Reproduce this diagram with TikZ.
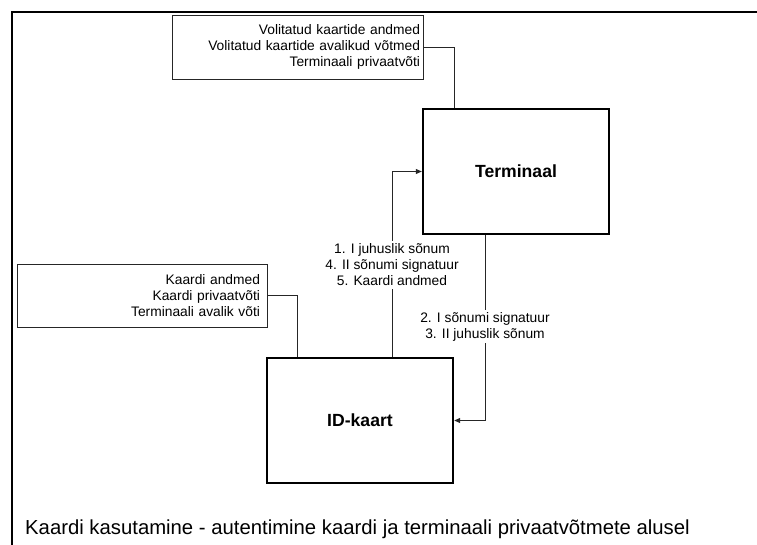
\documentclass[tikz,border=0pt]{standalone}
\usepackage{fontspec}
\setmainfont{Liberation Sans}
\usetikzlibrary{arrows.meta}
\begin{document}
\begin{tikzpicture}[x=1pt,y=-1pt,
  every node/.style={font=\fontsize{13.8}{16}\selectfont},
  store/.style={draw=black!85, line width=0.8pt, align=right, anchor=center},
  actor/.style={draw, line width=2.4pt, minimum width=186pt, minimum height=125pt,
    font=\bfseries\fontsize{17.6}{20}\selectfont},
  wire/.style={draw=black!85, line width=0.8pt},
  msg/.style={wire, -{Triangle[length=6pt,width=5pt]}},
  msglabel/.style={fill=white, align=center, inner xsep=1pt, inner ysep=2.5pt}
]
% page and frame
\useasboundingbox (0,0) rectangle (757,545);
\draw[line width=2pt] (757,12) -- (12,12) -- (12,545);

% data stores
\node[store, text width=245pt, inner xsep=3pt, minimum height=64pt] (tstore) at (297.5,47)
  {Volitatud kaartide andmed\\Volitatud kaartide avalikud võtmed\\Terminaali privaatvõti};
\node[store, text width=236pt, inner xsep=7pt, minimum height=63pt] (kstore) at (142,295.5)
  {Kaardi andmed\\Kaardi privaatvõti\\Terminaali avalik võti};

% parties
\node[actor] (term) at (516,171.5) {Terminaal};
\node[actor] (card) at (360,420.5) {ID-kaart};

% store links
\draw[wire] (tstore.east) -| ([xshift=-62pt]term.north);
\draw[wire] (kstore.east) -| ([xshift=-63pt]card.north);

% message flows
\draw[msg] ([xshift=32pt]card.north) |- (term.west);
\draw[msg] ([xshift=-31pt]term.south) |- (card.east);
\node[msglabel] (m1) at (392,265)
  {1. I juhuslik sõnum\\4. II sõnumi signatuur\\5. Kaardi andmed};
\node[msglabel] (m2) at (485,326.5)
  {2. I sõnumi signatuur\\3. II juhuslik sõnum};

% caption
\node[anchor=base west, inner sep=0pt, font=\fontsize{20.3}{24}\selectfont] (cap) at (25,534)
  {Kaardi kasutamine - autentimine kaardi ja terminaali privaatvõtmete alusel};
\end{tikzpicture}
\end{document}
